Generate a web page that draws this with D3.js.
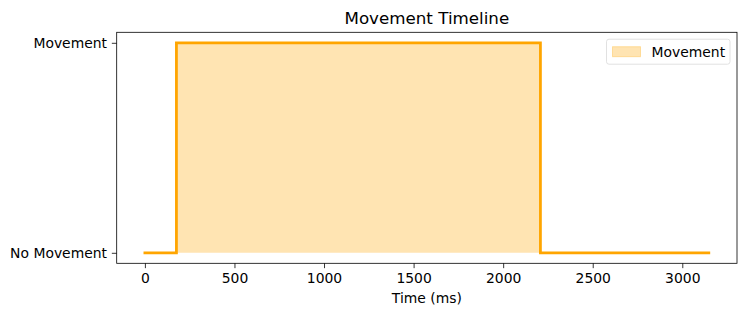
<!DOCTYPE html>
<html>
<head>
<meta charset="utf-8">
<script src="https://cdn.jsdelivr.net/npm/d3@7"></script>
<style>
  html, body { margin: 0; padding: 0; background: #fff; }
  svg { display: block; font-family: "DejaVu Sans", sans-serif; }
</style>
</head>
<body>
<svg id="chart" width="746" height="316"></svg>
<script>
// Data: movement state over time (0 = No Movement, 1 = Movement), step function
const timesMs = [0, 176, 2208, 3148];
const states  = [0, 1, 0, 0];
const yTickLabels = ["No Movement", "Movement"];
const xTickValues = [0, 500, 1000, 1500, 2000, 2500, 3000];
const titleText = "Movement Timeline";
const xLabelText = "Time (ms)";
const legendLabel = "Movement";

const svg = d3.select("#chart");
const W = 746, H = 316;
const plotL = 116.7, plotR = 737, plotT = 32.3, plotB = 263.3;

const xMin = d3.min(timesMs), xMax = d3.max(timesMs);
const xPad = (xMax - xMin) * 0.05;
const x = d3.scaleLinear().domain([xMin - xPad, xMax + xPad]).range([plotL, plotR]);
const y = d3.scaleLinear().domain([-0.05, 1.05]).range([plotB, plotT]);

const pts = timesMs.map((t, i) => ({ t, s: states[i] }));

const orange = "#ffa500";
const fillCol = "rgba(255,165,0,0.3)";

// fill area
const area = d3.area().curve(d3.curveStepAfter)
  .x(d => x(d.t)).y0(y(0)).y1(d => y(d.s));
svg.append("path").datum(pts).attr("d", area).attr("fill", fillCol).attr("stroke", "none");

// step line
const line = d3.line().curve(d3.curveStepAfter).x(d => x(d.t)).y(d => y(d.s));
svg.append("path").datum(pts).attr("d", line)
  .attr("fill", "none").attr("stroke", orange).attr("stroke-width", 2.78)
  .attr("stroke-linejoin", "miter").attr("stroke-linecap", "square");

// axes
const tk = 4.86;
const xAxis = d3.axisBottom(x).tickValues(xTickValues).tickSize(tk).tickPadding(tk).tickFormat(d3.format("d"));
const gx = svg.append("g").attr("transform", `translate(0,${plotB})`).call(xAxis);
const yAxis = d3.axisLeft(y).tickValues([0, 1]).tickSize(tk).tickPadding(tk).tickFormat(d => yTickLabels[d]);
const gy = svg.append("g").attr("transform", `translate(${plotL},0)`).call(yAxis);
[gx, gy].forEach(g => {
  g.select(".domain").remove();
  g.selectAll("text").attr("font-size", 13.9).attr("font-family", "DejaVu Sans").attr("fill", "#000");
  g.selectAll("line").attr("stroke", "#000").attr("stroke-width", 0.8);
});

// frame
svg.append("rect").attr("x", plotL).attr("y", plotT).attr("width", plotR - plotL).attr("height", plotB - plotT)
  .attr("fill", "none").attr("stroke", "#000").attr("stroke-width", 0.8);

// title
svg.append("text").attr("x", (plotL + plotR) / 2).attr("y", plotT - 8.3)
  .attr("text-anchor", "middle").attr("font-size", 16.7).text(titleText);

// x label
svg.append("text").attr("x", (plotL + plotR) / 2).attr("y", 303)
  .attr("text-anchor", "middle").attr("font-size", 13.9).text(xLabelText);

// legend
const lg = svg.append("g").attr("transform", `translate(${plotR - 130.5},${plotT + 6.9})`);
lg.append("rect").attr("x", 0).attr("y", 0).attr("width", 123.5).attr("height", 25).attr("rx", 2.5)
  .attr("fill", "rgba(255,255,255,0.8)").attr("stroke", "#d9d9d9").attr("stroke-width", 0.8);
lg.append("rect").attr("x", 6).attr("y", 7.5).attr("width", 28).attr("height", 10)
  .attr("fill", fillCol).attr("stroke", fillCol).attr("stroke-width", 1);
lg.append("text").attr("x", 45).attr("y", 17.5).attr("font-size", 13.9).text(legendLabel);
</script>
</body>
</html>
